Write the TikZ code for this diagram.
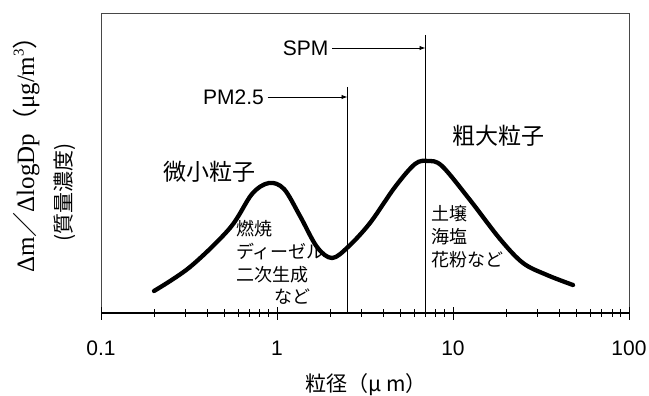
\documentclass[tikz,border=0pt]{standalone}
\usepackage{fontspec}
\setmainfont{Liberation Sans}
\newfontfamily\jp{Noto Sans CJK JP}
\newfontfamily\tms{Liberation Serif}
\usetikzlibrary{arrows.meta}
\begin{document}
\begin{tikzpicture}[x=1pt,y=-1pt,
  frameline/.style={draw=black!72, line width=1pt},
  axisline/.style={draw=black, line width=1.3pt},
  minortick/.style={draw=black, line width=0.9pt},
  majortick/.style={draw=black, line width=1pt},
  curveline/.style={draw=black, line width=4.3pt, line cap=round, line join=round},
  cutline/.style={draw=black, line width=0.9pt},
  cutarrow/.style={draw=black, line width=0.9pt, -{Latex[length=6pt,width=4.5pt]}},
  ticklabel/.style={font=\fontsize{21}{21}\selectfont, inner sep=0pt},
  biglabel/.style={font=\jp\fontsize{23}{23}\selectfont, inner sep=0pt},
  smalllabel/.style={font=\jp\fontsize{18}{18}\selectfont, inner sep=0pt, anchor=west}]
\useasboundingbox (0,0) rectangle (649,396);
% frame
\draw[frameline] (101,313) -- (101,13.5) -- (629,13.5) -- (629,313);
% axis
\draw[axisline] (101,313) -- (629,313);
\foreach \d in {0,1,2}{
  \foreach \m in {2,...,9}{
    \pgfmathsetmacro\xx{101+176*(\d+ln(\m)/ln(10))}
    \draw[minortick] (\xx,309) -- (\xx,317);
  }
}
\foreach \d in {0,...,3}{
  \draw[majortick] (101+176*\d,307) -- (101+176*\d,320);
}
% tick labels
\node[ticklabel] (l01) at (101,348) {0.1};
\node[ticklabel] (l1) at (277,348) {1};
\node[ticklabel] (l10) at (453,348) {10};
\node[ticklabel] (l100) at (629,348) {100};
\node[font=\jp\fontsize{21}{21}\selectfont, inner sep=0pt] (xlab) at (366,385) {粒径（μ m）};
% y label
\node[rotate=90, font=\tms\fontsize{25}{25}\selectfont, inner sep=0pt] (ylab1) at (26,148.5)
  {Δm{\jp ／}ΔlogDp{\jp （}μg/m\raisebox{0.42em}{\fontsize{15}{15}\selectfont 3}{\jp ）}};
\node[rotate=90, font=\jp\fontsize{21}{21}\selectfont, inner sep=0pt] (ylab2) at (65,192.5) {(質量濃度)};
% curve
\draw[curveline] plot[smooth, tension=0.55] coordinates {
  (154,291) (190,267) (230,228) (252,194) (269,183) (284,189) (300,216)
  (317,247) (332,258) (348,247) (370,223) (395,187) (415,164) (428,161)
  (442,166) (470,200) (500,239) (523,263) (547,275) (573,285)};
% cut lines
\coordinate (pmtop) at (347.5,87);
\coordinate (pmbot) at (347.5,313);
\coordinate (spmtop) at (425.5,35);
\coordinate (spmbot) at (425.5,313);
\draw[cutline] (pmtop) -- (pmbot);
\draw[cutline] (spmtop) -- (spmbot);
\node[ticklabel, anchor=east] (spm) at (328.5,48) {SPM};
\node[ticklabel, anchor=east] (pm) at (264,97) {PM2.5};
\draw[cutarrow] ([xshift=3.5pt]spm.east) -- (spm.east -| spmtop);
\draw[cutarrow] ([xshift=3.5pt]pm.east) -- (pm.east -| pmtop);
% labels
\node[biglabel] (fine) at (209,172) {微小粒子};
\node[biglabel] (coarse) at (498,136) {粗大粒子};
\node[smalllabel] (f1) at (236,229) {燃焼};
\node[smalllabel] (f2) at (236,252) {ディーゼル};
\node[smalllabel] (f3) at (236,275) {二次生成};
\node[smalllabel] (f4) at (274,297) {など};
\node[smalllabel] (c1) at (431,214) {土壌};
\node[smalllabel] (c2) at (431,237) {海塩};
\node[smalllabel] (c3) at (431,260) {花粉など};
\end{tikzpicture}
\end{document}
